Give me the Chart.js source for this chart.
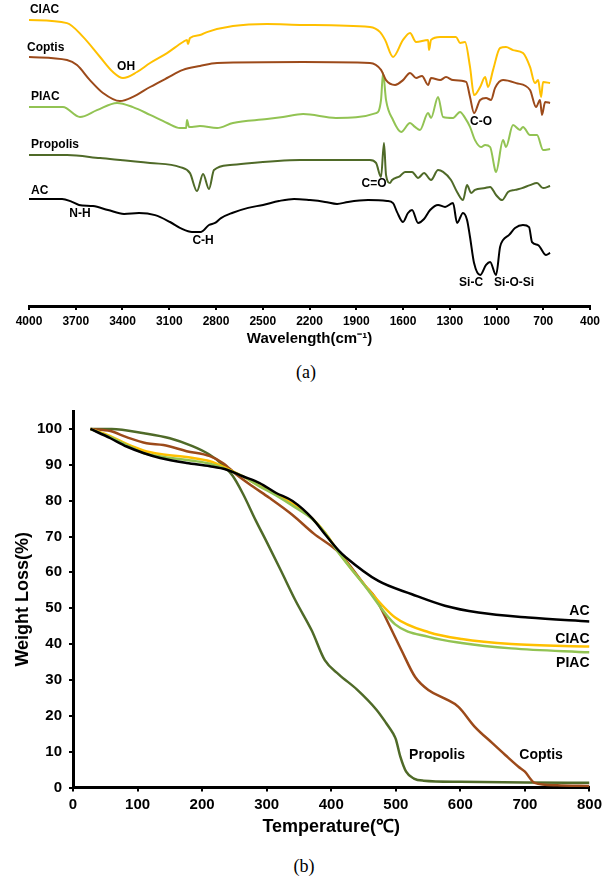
<!DOCTYPE html>
<html>
<head>
<meta charset="utf-8">
<script src="https://cdn.jsdelivr.net/npm/chart.js@4.4.1/dist/chart.umd.min.js"></script>
<style>
  body { margin: 0; background: #fff; width: 606px; height: 877px; position: relative; overflow: hidden; }
  #ftir { position: absolute; left: 0; top: 0; }
  #tga { position: absolute; left: 0; top: 395px; }
  .cap { position: absolute; width: 606px; text-align: center; font-family: "Liberation Serif", "Times New Roman", serif; font-size: 18px; color: #000; }
</style>
</head>
<body>
<canvas id="ftir" width="606" height="350"></canvas>
<div class="cap" style="top:362px;left:3px">(a)</div>
<canvas id="tga" width="606" height="450"></canvas>
<div class="cap" style="top:856px;left:1px">(b)</div>
<script>
// (a) FTIR spectra - wavenumber (cm-1) / offset transmittance (a.u.)
const ciacWave = [4000,3756,3653,3544,3461,3397,3307,3223,3114,3012,2986,2980,2967,2903,2858,2691,2473,2241,1812,1747,1715,1664,1600,1555,1516,1439,1433,1420,1362,1260,1234,1202,1170,1144,1105,1073,1054,1022,977,939,894,830,785,753,733,714,701,656];
const ciacVal = [95.3,94.3,89.7,83,78,76,78,81,84.3,88,88.7,87.3,89.3,90.3,91.3,93.3,94,93.7,93,91.3,88.7,83,88.7,91,88,88.7,85.3,88.7,89.7,89.7,87.7,88,79.7,70.3,73,76.3,73,78.7,86,86.3,85.3,84.3,79.7,74.3,75.3,69.7,74.7,74.3];

const coptisWave = [4000,3756,3692,3609,3525,3416,3333,3223,3114,3012,2903,2793,2241,1812,1741,1709,1651,1600,1555,1516,1478,1439,1420,1362,1324,1279,1195,1170,1144,1105,1067,1035,1009,958,874,785,746,721,708,688,656];
const coptisVal = [83,82,80.3,75.3,71,68.3,69.7,73,76,78.7,80,81,81.3,81,78.7,75.3,73.7,75.3,77.7,76,76.7,73.7,76,75.3,76.3,75.3,74.7,69.7,64.3,68.7,69.3,68.7,72.7,75.3,74.3,72,66.3,68.7,63.7,68,67.7];

const piacWave = [4000,3782,3673,3564,3435,3333,3223,3114,3031,2992,2986,2973,2954,2903,2793,2691,2473,2370,2241,2030,1773,1741,1728,1709,1664,1612,1555,1523,1491,1439,1420,1375,1343,1279,1234,1202,1170,1138,1099,1073,1041,1009,1003,958,939,894,849,830,785,740,701,656];
const piacVal = [66.3,66.3,63,65.3,67.7,66.3,63.7,61,59.3,59.3,62,59.7,59.7,60,59.3,61,62.3,63,64,62.7,64.3,68.7,77.7,68.7,62,58,61,59.7,58.7,64.3,62.7,69.7,63,62.7,64.7,62.7,59.7,55.3,53,53.7,53,45.3,44.7,55.3,53,60.3,58.7,59.7,57,57,52,52.3];

const propolisWave = [4000,3756,3544,3223,3031,2967,2922,2883,2845,2813,2710,2261,1812,1773,1741,1722,1709,1683,1670,1619,1587,1542,1503,1465,1420,1375,1343,1292,1253,1215,1189,1163,1138,1073,1041,1003,964,926,881,836,785,740,701,656];
const propolisVal = [50.3,50.3,49.3,47.7,46.3,44.3,38.3,44,39,45.3,47,48.7,48.7,47.7,43,54.3,43.7,41,42,43.3,44.7,44.7,42.7,44.3,42,45.3,44.7,42,38,35.3,40.3,37.7,38.7,39.3,39.7,37,35.3,38,38.7,39.3,40.3,41,39.3,40];

const acWave = [4000,3788,3724,3679,3589,3493,3390,3294,3191,3095,3018,2954,2896,2845,2806,2768,2697,2594,2498,2396,2299,2197,2100,2023,1953,1824,1702,1664,1638,1600,1568,1542,1503,1465,1426,1375,1330,1279,1253,1215,1189,1170,1144,1105,1067,1041,1003,977,958,919,881,830,791,772,733,682,656];
const acVal = [35.7,35.7,34.7,33.7,33.3,32,30.7,31,30.3,28,25.7,24.7,24.7,27,27.7,29.3,31,32.7,33.7,35,35.7,35.3,34.7,34,34.7,35.3,35,34.3,31.3,28,31,32,27.7,29,32,33.7,33,34.3,27.7,31,28.7,23,14.3,10.3,13.7,14.7,10.3,19.7,22,23.7,26,27,26.3,21.3,20.3,17,17.7];

// text on the spectra: [text, wavenumber, value, align]
const ftirLabels = [
  ["CIAC", 3994, 98.7, "left"], ["Coptis", 4013, 86, "left"], ["PIAC", 3987, 69.7, "left"],
  ["Propolis", 3987, 53.7, "left"], ["AC", 3987, 38.4, "left"],
  ["OH", 3377, 79.7, "center"], ["N-H", 3673, 30.7, "center"], ["C-H", 2883, 21.7, "center"],
  ["C=O", 1786, 40.7, "center"], ["C-O", 1099, 61.3, "center"],
  ["Si-C", 1163, 7.7, "center"], ["Si-O-Si", 887, 7.7, "center"]
];

// (b) TGA - temperature (C) / weight (%)
const tempAC = [27,58,83,109,135,176,212,237,263,289,314,340,371,391,412,422,473,525,576,628,705,800];
const wAC = [100,97.4,95.1,93.3,91.9,90.5,89.6,88.7,86.8,84.9,82.2,79.9,75,70.5,66,64.3,57.6,53.9,50.7,48.8,47.4,46.3];

const tempCIAC = [27,58,83,109,135,186,212,237,263,289,314,340,371,391,412,453,499,551,602,679,800];
const wCIAC = [100,98,95.8,94,93,91.9,91,89.1,86.8,84.1,81.9,79.1,75,71,65.5,56.2,47.4,43.3,41.4,40,39.3];

const tempPIAC = [27,58,83,109,135,186,212,237,263,289,314,340,371,391,412,453,499,551,602,679,800];
const wPIAC = [100,97.7,95.5,93.3,92.3,91.1,90.3,88.8,86.8,84,81.5,78.6,74.8,70.8,65.3,56,45.5,42,40.3,38.8,37.7];

const tempCoptis = [27,58,83,114,140,176,212,232,253,278,304,340,373,412,453,468,489,509,530,551,576,597,622,650,670,690,700,715,750,800];
const wCoptis = [100,99.4,97.7,96,95.5,93.8,92.4,90.5,87.3,84,80.8,76,70.8,65.5,56.2,53,45.6,38.2,30.8,27.1,24.8,22.5,17,12.3,9,5.8,4.4,1.3,0.6,0.4];

const tempPropolis = [27,60,110,150,185,210,230,247,263,283,300,322,345,370,390,412,440,470,485,496,500,507,516,528,543,600,700,800];
const wPropolis = [100,100,98.8,97.4,95.2,93,90.3,87,82,74.5,68.5,60.5,52,43.7,35.5,31.5,27.3,21.7,18,15,13.5,8.6,4.4,2.5,1.9,1.6,1.4,1.3];

const tgaLabels = [
  ["AC", 800, 49.3, "right"], ["CIAC", 800, 41.25, "right"], ["PIAC", 800, 34.6, "right"],
  ["Propolis", 564, 9, "center"], ["Coptis", 725, 9, "center"]
];

const SANS = '"Liberation Sans", Arial, sans-serif';
const BLACK = "#000";

function series(label, xs, ys, color, width) {
  return {
    label: label,
    data: xs.map((x, i) => ({ x: x, y: ys[i] })),
    borderColor: color,
    borderWidth: width,
    pointRadius: 0,
    fill: false,
    cubicInterpolationMode: "monotone"
  };
}

// draws the series names / band names at data positions
function makeLabels(items, font) {
  return {
    id: "textLabels",
    afterDatasetsDraw(chart) {
      const { ctx, scales } = chart;
      ctx.save();
      ctx.font = font;
      ctx.fillStyle = BLACK;
      ctx.textBaseline = "middle";
      items.forEach(([t, xv, yv, align]) => {
        ctx.textAlign = align;
        ctx.fillText(t, scales.x.getPixelForValue(xv), scales.y.getPixelForValue(yv));
      });
      ctx.restore();
    }
  };
}

const axisGrid = { drawOnChartArea: false, drawTicks: true, tickLength: 4, color: BLACK, lineWidth: 2 };
const axisBorder = { display: true, color: BLACK, width: 3 };
const plain = (v) => String(v);

new Chart(document.getElementById("ftir"), {
  type: "line",
  data: {
    datasets: [
      series("CIAC", ciacWave, ciacVal, "#FFC000", 2),
      series("Coptis", coptisWave, coptisVal, "#9C4A1A", 2),
      series("PIAC", piacWave, piacVal, "#92C353", 2),
      series("Propolis", propolisWave, propolisVal, "#4F6A28", 2),
      series("AC", acWave, acVal, "#000000", 2)
    ]
  },
  options: {
    responsive: false,
    animation: false,
    layout: { padding: { left: 29, right: 16, top: 6, bottom: 0 } },
    plugins: { legend: { display: false }, tooltip: { enabled: false } },
    scales: {
      x: {
        type: "linear", reverse: true, min: 400, max: 4000,
        ticks: { stepSize: 300, color: BLACK, autoSkip: false, maxRotation: 0, padding: 4,
                 callback: plain, font: { family: SANS, size: 12, weight: "bold" } },
        grid: axisGrid,
        border: axisBorder,
        title: { display: true, text: "Wavelength(cm⁻¹)", color: BLACK,
                 font: { family: SANS, size: 15, weight: "bold" }, padding: { top: 0, bottom: 2 } },
        afterFit(s) { s.height = 44; }
      },
      y: { display: false, min: 0, max: 100 }
    }
  },
  plugins: [makeLabels(ftirLabels, "bold 12px " + SANS)]
});

new Chart(document.getElementById("tga"), {
  type: "line",
  data: {
    datasets: [
      series("AC", tempAC, wAC, "#000000", 2.5),
      series("PIAC", tempPIAC, wPIAC, "#92C353", 2.5),
      series("CIAC", tempCIAC, wCIAC, "#FFC000", 2.5),
      series("Coptis", tempCoptis, wCoptis, "#9C4A1A", 2.5),
      series("Propolis", tempPropolis, wPropolis, "#4F6A28", 2.5)
    ]
  },
  options: {
    responsive: false,
    animation: false,
    layout: { padding: { left: 0, right: 14, top: 14.5, bottom: 0 } },
    plugins: { legend: { display: false }, tooltip: { enabled: false } },
    scales: {
      x: {
        type: "linear", min: 0, max: 800,
        ticks: { stepSize: 100, color: BLACK, autoSkip: false, maxRotation: 0, padding: 4,
                 callback: plain, font: { family: SANS, size: 15, weight: "bold" } },
        grid: axisGrid,
        border: axisBorder,
        title: { display: true, text: "Temperature(℃)", color: BLACK,
                 font: { family: SANS, size: 18, weight: "bold" }, padding: { top: 0, bottom: 7 } },
        afterFit(s) { s.height = 57.5; }
      },
      y: {
        min: 0, max: 105,
        ticks: { stepSize: 10, color: BLACK, padding: 7,
                 font: { family: SANS, size: 15, weight: "bold" } },
        grid: axisGrid,
        border: axisBorder,
        title: { display: true, text: "Weight Loss(%)", color: BLACK,
                 font: { family: SANS, size: 18, weight: "bold" }, padding: { top: 12, bottom: 0 } },
        afterBuildTicks(s) { s.ticks = s.ticks.filter(t => t.value % 10 === 0); },
        afterFit(s) { s.width = 73; }
      }
    }
  },
  plugins: [makeLabels(tgaLabels, "bold 14px " + SANS)]
});
</script>
</body>
</html>
